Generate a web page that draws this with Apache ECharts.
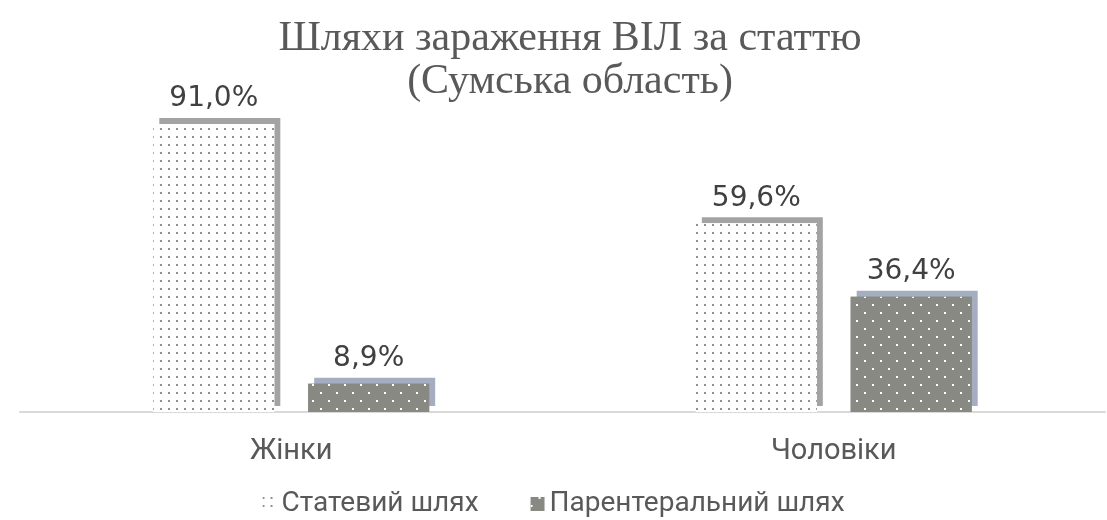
<!DOCTYPE html>
<html>
<head>
    <meta charset="utf-8">
    <title>ECharts</title>
    <script src="https://cdn.jsdelivr.net/npm/echarts@6/dist/echarts.min.js"></script>
    <style>
        html, body { margin: 0; padding: 0; background: #fff; }
    </style>
</head>
<body>
	<div id="main" style="width: 1107px;height:520px;"></div>
	<script type="text/javascript">
	  var categories = ['Жінки', 'Чоловіки'];
	  var seriesNames = ['Статевий шлях', 'Парентеральний шлях'];
	  var sexualWay = [91.0, 59.6];
	  var parenteralWay = [8.9, 36.4];

	  var myChart = echarts.init(document.getElementById('main'));

	  function pct(p) {
		return p.value.toFixed(1).replace('.', ',') + '%';
	  }

	  var labelStyle = {
		show: true,
		position: 'top',
		distance: 11,
		formatter: pct,
		color: '#404040',
		fontSize: 28,
		fontFamily: 'DejaVu Sans'
	  };

	  // the "3d" edge: a plain bar with a hard offset shadow, drawn under the patterned bar
	  function edgeSeries(name, data, fill, edge) {
		return {
		  name: name,
		  type: 'bar',
		  xAxisIndex: 0,
		  data: data,
		  barWidth: 121,
		  barGap: '28%',
		  silent: true,
		  z: 1,
		  itemStyle: {
			color: fill,
			shadowColor: edge,
			shadowOffsetX: 6,
			shadowOffsetY: -6,
			shadowBlur: 0
		  }
		};
	  }

	  var option = {
		animation: false,
		title: {
		  text: 'Шляхи зараження ВІЛ за статтю\n(Сумська область)',
		  left: 565,
		  top: 12,
		  textAlign: 'center',
		  textStyle: {
			fontFamily: 'Liberation Serif',
			fontWeight: 'normal',
			fontSize: 42,
			lineHeight: 43,
			color: '#595959'
		  }
		},
		legend: {
		  data: seriesNames,
		  top: 485,
		  left: 'center',
		  icon: 'rect',
		  itemWidth: 14,
		  itemHeight: 14,
		  itemGap: 52,
		  textStyle: { fontFamily: 'Roboto', fontSize: 28, color: '#595959' }
		},
		grid: {
		  left: 20,
		  right: 2,
		  top: 95.5,
		  bottom: 108
		},
		xAxis: [
		  {
			type: 'category',
			data: categories,
			axisTick: { show: false },
			axisLine: { lineStyle: { color: '#d9d9d9', width: 2 } },
			axisLabel: { margin: 25, fontSize: 29, color: '#595959', fontFamily: 'Roboto' }
		  },
		  {
			type: 'category',
			data: categories,
			show: false
		  }
		],
		yAxis: {
		  type: 'value',
		  min: 0,
		  max: 100,
		  show: false
		},
		series: [
		  edgeSeries('edge1', sexualWay, '#ffffff', '#a3a3a3'),
		  edgeSeries('edge2', parenteralWay, '#898984', '#a5aec0'),
		  {
			name: seriesNames[0],
			type: 'bar',
			xAxisIndex: 1,
			data: sexualWay,
			barWidth: 121,
			barGap: '28%',
			z: 2,
			label: labelStyle,
			itemStyle: {
			  color: '#ffffff',
			  decal: {
				symbol: 'rect',
				symbolSize: 1,
				color: '#8f8f8f',
				dashArrayX: [2, 6],
				dashArrayY: [2, 6],
				rotation: 0
			  }
			}
		  },
		  {
			name: seriesNames[1],
			type: 'bar',
			xAxisIndex: 1,
			data: parenteralWay,
			barWidth: 121,
			z: 2,
			label: labelStyle,
			itemStyle: {
			  color: '#898984',
			  decal: {
				symbol: 'rect',
				symbolSize: 1,
				color: '#ffffff',
				dashArrayX: [[2, 14], [0, 8, 2, 6]],
				dashArrayY: [2, 6],
				rotation: 0
			  }
			}
		  }
		]
	  };
	  myChart.setOption(option);
	</script>
</body>
</html>
